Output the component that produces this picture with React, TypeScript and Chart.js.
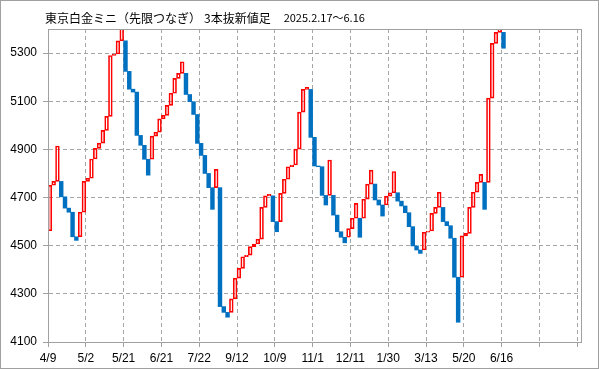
import React, { useEffect, useRef } from 'react';
import { Chart, registerables } from 'chart.js';

Chart.register(...registerables);

const TITLE_MAIN = '東京白金ミニ（先限つなぎ）';
const TITLE_SUB = '3本抜新値足';
const TITLE_RANGE = '2025.2.17～6.16';

// opening price of the first brick
const FIRST_OPEN = 4562;

// close of each brick (3-line-break style bricks)
const CLOSES = [
  4751, 4767, 4914, 4703, 4656, 4639, 4537, 4522, 4639, 4767,
  4780, 4860, 4904, 4926, 4979, 5037, 5290, 5296, 5351, 5420,
  5224, 5150, 5138, 4958, 4917, 4859, 4793, 4955, 4972, 5027,
  5041, 5083, 5133, 5195, 5216, 5264, 5128, 5098, 5045, 4925,
  4875, 4800, 4741, 4651, 4817, 4247, 4223, 4203, 4279, 4365,
  4406, 4454, 4461, 4496, 4507, 4527, 4659, 4707, 4713, 4600,
  4558, 4717, 4776, 4828, 4835, 4901, 5055, 5149, 5158, 4950,
  4831, 4828, 4709, 4669, 4856, 4627, 4558, 4535, 4512, 4571,
  4614, 4676, 4535, 4693, 4756, 4814, 4690, 4669, 4623, 4706,
  4720, 4808, 4685, 4665, 4637, 4579, 4499, 4482, 4468, 4556,
  4561, 4634, 4659, 4722, 4600, 4583, 4531, 4369, 4182, 4541,
  4551, 4659, 4722, 4763, 4796, 4651, 5113, 5340, 5386, 5420,
  5320,
];

// date labels shown every 10 bricks
const DATE_LABELS = ['4/9', '5/2', '5/21', '6/21', '7/22', '9/12', '10/9', '11/1', '12/11', '1/30', '3/13', '5/20', '6/16'];

const Y_TICKS = [4100, 4300, 4500, 4700, 4900, 5100, 5300];
const Y_MIN = 4100;
const Y_MAX = 5400;
const X_MAX = 141;
const X_TICK_STEP = 10;

const UP_COLOR = '#ff0000';
const DOWN_COLOR = '#0070c0';
const GRID_COLOR = '#a6a6a6';
const AXIS_COLOR = '#a0a0a0';

function computeOpens(): number[] {
  const opens: number[] = [];
  CLOSES.forEach((c, i) => {
    if (i === 0) {
      opens.push(FIRST_OPEN);
      return;
    }
    const po = opens[i - 1];
    const pc = CLOSES[i - 1];
    const prevUp = pc > po;
    const cont = prevUp ? c > pc : c < pc;
    opens.push(cont ? pc : po);
  });
  return opens;
}

export default function App() {
  const ref = useRef<HTMLCanvasElement | null>(null);

  useEffect(() => {
    document.body.style.margin = '0';
    const canvas = ref.current;
    if (!canvas) return;
    const opens = computeOpens();
    const isUp = CLOSES.map((c, i) => c > opens[i]);
    const data = CLOSES.map((c, i) => ({ x: i + 0.5, y: [opens[i], c] }));

    const framePlugin = {
      id: 'frame',
      beforeDraw(chart: any) {
        const { ctx, width, height } = chart;
        ctx.save();
        ctx.fillStyle = '#ffffff';
        ctx.fillRect(0, 0, width, height);
        ctx.restore();
      },
      afterDraw(chart: any) {
        const { ctx, chartArea, width, height } = chart;
        ctx.save();
        ctx.strokeStyle = AXIS_COLOR;
        ctx.lineWidth = 1;
        ctx.strokeRect(Math.round(chartArea.left) + 0.5, Math.round(chartArea.top) + 0.5,
          Math.round(chartArea.right - chartArea.left), Math.round(chartArea.bottom - chartArea.top));
        ctx.strokeStyle = '#a0a0a0';
        ctx.strokeRect(0.5, 0.5, width - 1, height - 1);
        // title
        ctx.fillStyle = '#000000';
        ctx.textBaseline = 'middle';
        ctx.font = '12px "Noto Sans CJK JP"';
        let x = 45;
        const y = 18;
        ctx.fillText(TITLE_MAIN, x, y);
        x += ctx.measureText(TITLE_MAIN).width + 3;
        ctx.fillText(TITLE_SUB, x, y);
        x += ctx.measureText(TITLE_SUB).width + 13;
        ctx.font = '11px "Noto Sans CJK JP"';
        ctx.fillText(TITLE_RANGE, x, y);
        ctx.restore();
      },
    };

    const chart = new Chart(canvas, {
      type: 'bar',
      data: {
        datasets: [
          {
            data: data as any,
            backgroundColor: (c: any) => (isUp[c.dataIndex] ? 'rgba(0,0,0,0)' : DOWN_COLOR),
            borderColor: (c: any) => (isUp[c.dataIndex] ? UP_COLOR : DOWN_COLOR),
            borderWidth: (c: any) => (isUp[c.dataIndex] ? 1 : 0),
            borderSkipped: false,
            barPercentage: 1,
            categoryPercentage: 1,
          },
        ],
      },
      options: {
        responsive: false,
        animation: false,
        devicePixelRatio: 1,
        layout: { padding: { left: 0, top: 29, right: 18, bottom: 0 } },
        plugins: { legend: { display: false }, tooltip: { enabled: false }, title: { display: false } },
        scales: {
          x: {
            type: 'linear',
            min: 0,
            max: X_MAX,
            offset: false,
            afterBuildTicks: (s: any) => {
              const t = [];
              for (let v = 0; v <= X_MAX; v += X_TICK_STEP) t.push({ value: v });
              s.ticks = t;
            },
            afterFit: (s: any) => {
              s.height = 27;
            },
            grid: { offset: false, color: GRID_COLOR, lineWidth: 1, tickLength: 5, tickColor: AXIS_COLOR, drawTicks: true },
            border: { display: true, color: AXIS_COLOR, width: 1, dash: [4, 3] },
            ticks: {
              autoSkip: false,
              maxRotation: 0,
              padding: 4,
              color: '#000000',
              font: { family: '"Liberation Sans"', size: 12 },
              callback: (v: any) => {
                const idx = Math.round(Number(v) / X_TICK_STEP);
                return DATE_LABELS[idx] ?? '';
              },
            },
          },
          y: {
            type: 'linear',
            min: Y_MIN,
            max: Y_MAX,
            afterBuildTicks: (s: any) => {
              s.ticks = Y_TICKS.map((v) => ({ value: v }));
            },
            afterFit: (s: any) => {
              s.width = 48;
            },
            grid: { color: GRID_COLOR, lineWidth: 1, tickLength: 5, tickColor: AXIS_COLOR, drawTicks: true },
            border: { display: true, color: AXIS_COLOR, width: 1, dash: [4, 3] },
            ticks: {
              padding: 6,
              color: '#000000',
              font: { family: '"Liberation Sans"', size: 12 },
              callback: (v: any) => String(v),
            },
          },
        },
      },
      plugins: [framePlugin],
    } as any);

    return () => {
      chart.destroy();
    };
  }, []);

  return (
    <div style={{ width: 599, height: 369 }}>
      <canvas ref={ref} width={599} height={369} style={{ display: 'block' }} />
    </div>
  );
}
